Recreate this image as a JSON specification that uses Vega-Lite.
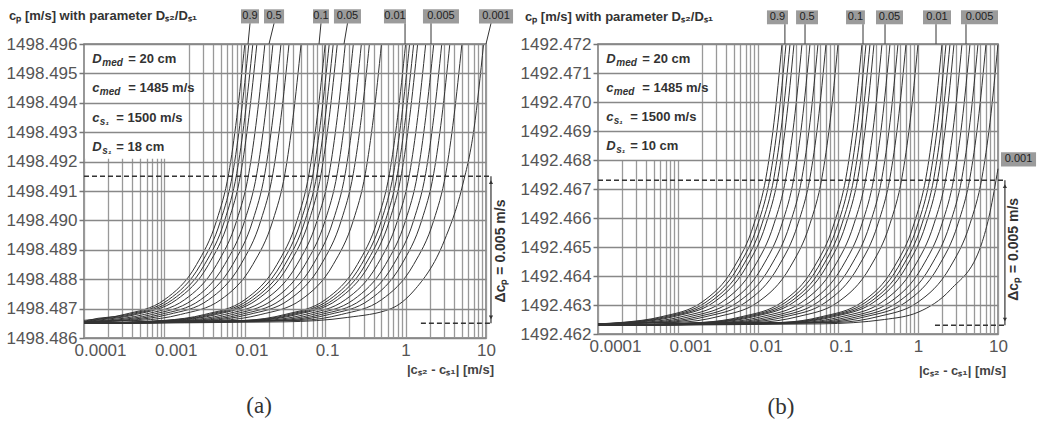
{
"$schema":"https://vega.github.io/schema/vega-lite/v6.json",
"background":"white",
"padding":{"left":5,"top":8,"right":0,"bottom":0},
"spacing":112,
"bounds":"flush",
"config":{"view":{"stroke":"#777","strokeWidth":1.5},"font":"Liberation Sans","text":{"font":"Liberation Sans"}},
"datasets":{
"ca":[
{"c":"a1","x":0.01,"y":1498.496},{"c":"a1","x":0.007943,"y":1498.4935},{"c":"a1","x":0.00631,"y":1498.4916},{"c":"a1","x":0.004467,"y":1498.49},{"c":"a1","x":0.002512,"y":1498.4885},{"c":"a1","x":0.001,"y":1498.4873},{"c":"a1","x":0.0003162,"y":1498.4868},{"c":"a1","x":0.0001,"y":1498.4866},
{"c":"a2","x":0.01122,"y":1498.496},{"c":"a2","x":0.008913,"y":1498.4935},{"c":"a2","x":0.007079,"y":1498.4916},{"c":"a2","x":0.005012,"y":1498.49},{"c":"a2","x":0.002818,"y":1498.4885},{"c":"a2","x":0.001122,"y":1498.4873},{"c":"a2","x":0.0003548,"y":1498.4868},{"c":"a2","x":0.0001122,"y":1498.4866},{"c":"a2","x":0.0001,"y":1498.48655},
{"c":"a3","x":0.01259,"y":1498.496},{"c":"a3","x":0.01,"y":1498.4935},{"c":"a3","x":0.007943,"y":1498.4916},{"c":"a3","x":0.005623,"y":1498.49},{"c":"a3","x":0.003162,"y":1498.4885},{"c":"a3","x":0.001259,"y":1498.4873},{"c":"a3","x":0.0003981,"y":1498.4868},{"c":"a3","x":0.0001259,"y":1498.4866},{"c":"a3","x":0.0001,"y":1498.48655},
{"c":"a4","x":0.01413,"y":1498.496},{"c":"a4","x":0.01122,"y":1498.4935},{"c":"a4","x":0.008913,"y":1498.4916},{"c":"a4","x":0.00631,"y":1498.49},{"c":"a4","x":0.003548,"y":1498.4885},{"c":"a4","x":0.001413,"y":1498.4873},{"c":"a4","x":0.0004467,"y":1498.4868},{"c":"a4","x":0.0001413,"y":1498.4866},{"c":"a4","x":0.0001,"y":1498.48655},
{"c":"a5","x":0.01778,"y":1498.496},{"c":"a5","x":0.01413,"y":1498.4935},{"c":"a5","x":0.01122,"y":1498.4916},{"c":"a5","x":0.007943,"y":1498.49},{"c":"a5","x":0.004467,"y":1498.4885},{"c":"a5","x":0.001778,"y":1498.4873},{"c":"a5","x":0.0005623,"y":1498.4868},{"c":"a5","x":0.0001778,"y":1498.4866},{"c":"a5","x":0.0001,"y":1498.48655},
{"c":"a6","x":0.02239,"y":1498.496},{"c":"a6","x":0.01778,"y":1498.4935},{"c":"a6","x":0.01413,"y":1498.4916},{"c":"a6","x":0.01,"y":1498.49},{"c":"a6","x":0.005623,"y":1498.4885},{"c":"a6","x":0.002239,"y":1498.4873},{"c":"a6","x":0.0007079,"y":1498.4868},{"c":"a6","x":0.0002239,"y":1498.4866},{"c":"a6","x":0.0001,"y":1498.48655},
{"c":"a7","x":0.02818,"y":1498.496},{"c":"a7","x":0.02239,"y":1498.4935},{"c":"a7","x":0.01778,"y":1498.4916},{"c":"a7","x":0.01259,"y":1498.49},{"c":"a7","x":0.007079,"y":1498.4885},{"c":"a7","x":0.002818,"y":1498.4873},{"c":"a7","x":0.0008913,"y":1498.4868},{"c":"a7","x":0.0002818,"y":1498.4866},{"c":"a7","x":0.0001,"y":1498.48655},
{"c":"a8","x":0.03548,"y":1498.496},{"c":"a8","x":0.02818,"y":1498.4935},{"c":"a8","x":0.02239,"y":1498.4916},{"c":"a8","x":0.01585,"y":1498.49},{"c":"a8","x":0.008913,"y":1498.4885},{"c":"a8","x":0.003548,"y":1498.4873},{"c":"a8","x":0.001122,"y":1498.4868},{"c":"a8","x":0.0003548,"y":1498.4866},{"c":"a8","x":0.0001,"y":1498.48655},
{"c":"a9","x":0.05012,"y":1498.496},{"c":"a9","x":0.03981,"y":1498.4935},{"c":"a9","x":0.03162,"y":1498.4916},{"c":"a9","x":0.02239,"y":1498.49},{"c":"a9","x":0.01259,"y":1498.4885},{"c":"a9","x":0.005012,"y":1498.4873},{"c":"a9","x":0.001585,"y":1498.4868},{"c":"a9","x":0.0005012,"y":1498.4866},{"c":"a9","x":0.0001,"y":1498.48655},
{"c":"b1","x":0.1,"y":1498.496},{"c":"b1","x":0.07943,"y":1498.4935},{"c":"b1","x":0.0631,"y":1498.4916},{"c":"b1","x":0.04467,"y":1498.49},{"c":"b1","x":0.02512,"y":1498.4885},{"c":"b1","x":0.01,"y":1498.4873},{"c":"b1","x":0.003162,"y":1498.4868},{"c":"b1","x":0.001,"y":1498.4866},{"c":"b1","x":0.0001,"y":1498.4865},
{"c":"b2","x":0.1122,"y":1498.496},{"c":"b2","x":0.08913,"y":1498.4935},{"c":"b2","x":0.07079,"y":1498.4916},{"c":"b2","x":0.05012,"y":1498.49},{"c":"b2","x":0.02818,"y":1498.4885},{"c":"b2","x":0.01122,"y":1498.4873},{"c":"b2","x":0.003548,"y":1498.4868},{"c":"b2","x":0.001122,"y":1498.4866},{"c":"b2","x":0.0001,"y":1498.4865},
{"c":"b3","x":0.1259,"y":1498.496},{"c":"b3","x":0.1,"y":1498.4935},{"c":"b3","x":0.07943,"y":1498.4916},{"c":"b3","x":0.05623,"y":1498.49},{"c":"b3","x":0.03162,"y":1498.4885},{"c":"b3","x":0.01259,"y":1498.4873},{"c":"b3","x":0.003981,"y":1498.4868},{"c":"b3","x":0.001259,"y":1498.4866},{"c":"b3","x":0.0001,"y":1498.4865},
{"c":"b4","x":0.1413,"y":1498.496},{"c":"b4","x":0.1122,"y":1498.4935},{"c":"b4","x":0.08913,"y":1498.4916},{"c":"b4","x":0.0631,"y":1498.49},{"c":"b4","x":0.03548,"y":1498.4885},{"c":"b4","x":0.01413,"y":1498.4873},{"c":"b4","x":0.004467,"y":1498.4868},{"c":"b4","x":0.001413,"y":1498.4866},{"c":"b4","x":0.0001,"y":1498.4865},
{"c":"b5","x":0.1778,"y":1498.496},{"c":"b5","x":0.1413,"y":1498.4935},{"c":"b5","x":0.1122,"y":1498.4916},{"c":"b5","x":0.07943,"y":1498.49},{"c":"b5","x":0.04467,"y":1498.4885},{"c":"b5","x":0.01778,"y":1498.4873},{"c":"b5","x":0.005623,"y":1498.4868},{"c":"b5","x":0.001778,"y":1498.4866},{"c":"b5","x":0.0001,"y":1498.4865},
{"c":"b6","x":0.2239,"y":1498.496},{"c":"b6","x":0.1778,"y":1498.4935},{"c":"b6","x":0.1413,"y":1498.4916},{"c":"b6","x":0.1,"y":1498.49},{"c":"b6","x":0.05623,"y":1498.4885},{"c":"b6","x":0.02239,"y":1498.4873},{"c":"b6","x":0.007079,"y":1498.4868},{"c":"b6","x":0.002239,"y":1498.4866},{"c":"b6","x":0.0001,"y":1498.4865},
{"c":"b7","x":0.2818,"y":1498.496},{"c":"b7","x":0.2239,"y":1498.4935},{"c":"b7","x":0.1778,"y":1498.4916},{"c":"b7","x":0.1259,"y":1498.49},{"c":"b7","x":0.07079,"y":1498.4885},{"c":"b7","x":0.02818,"y":1498.4873},{"c":"b7","x":0.008913,"y":1498.4868},{"c":"b7","x":0.002818,"y":1498.4866},{"c":"b7","x":0.0001,"y":1498.4865},
{"c":"b8","x":0.3548,"y":1498.496},{"c":"b8","x":0.2818,"y":1498.4935},{"c":"b8","x":0.2239,"y":1498.4916},{"c":"b8","x":0.1585,"y":1498.49},{"c":"b8","x":0.08913,"y":1498.4885},{"c":"b8","x":0.03548,"y":1498.4873},{"c":"b8","x":0.01122,"y":1498.4868},{"c":"b8","x":0.003548,"y":1498.4866},{"c":"b8","x":0.0001,"y":1498.4865},
{"c":"b9","x":0.5012,"y":1498.496},{"c":"b9","x":0.3981,"y":1498.4935},{"c":"b9","x":0.3162,"y":1498.4916},{"c":"b9","x":0.2239,"y":1498.49},{"c":"b9","x":0.1259,"y":1498.4885},{"c":"b9","x":0.05012,"y":1498.4873},{"c":"b9","x":0.01585,"y":1498.4868},{"c":"b9","x":0.005012,"y":1498.4866},{"c":"b9","x":0.0001,"y":1498.4865},
{"c":"c1","x":1,"y":1498.496},{"c":"c1","x":0.7943,"y":1498.4935},{"c":"c1","x":0.631,"y":1498.4916},{"c":"c1","x":0.4467,"y":1498.49},{"c":"c1","x":0.2512,"y":1498.4885},{"c":"c1","x":0.1,"y":1498.4873},{"c":"c1","x":0.03162,"y":1498.4868},{"c":"c1","x":0.01,"y":1498.4866},{"c":"c1","x":0.0001,"y":1498.4865},
{"c":"c2","x":1.122,"y":1498.496},{"c":"c2","x":0.8913,"y":1498.4935},{"c":"c2","x":0.7079,"y":1498.4916},{"c":"c2","x":0.5012,"y":1498.49},{"c":"c2","x":0.2818,"y":1498.4885},{"c":"c2","x":0.1122,"y":1498.4873},{"c":"c2","x":0.03548,"y":1498.4868},{"c":"c2","x":0.01122,"y":1498.4866},{"c":"c2","x":0.0001,"y":1498.4865},
{"c":"c3","x":1.259,"y":1498.496},{"c":"c3","x":1,"y":1498.4935},{"c":"c3","x":0.7943,"y":1498.4916},{"c":"c3","x":0.5623,"y":1498.49},{"c":"c3","x":0.3162,"y":1498.4885},{"c":"c3","x":0.1259,"y":1498.4873},{"c":"c3","x":0.03981,"y":1498.4868},{"c":"c3","x":0.01259,"y":1498.4866},{"c":"c3","x":0.0001,"y":1498.4865},
{"c":"c4","x":1.413,"y":1498.496},{"c":"c4","x":1.122,"y":1498.4935},{"c":"c4","x":0.8913,"y":1498.4916},{"c":"c4","x":0.631,"y":1498.49},{"c":"c4","x":0.3548,"y":1498.4885},{"c":"c4","x":0.1413,"y":1498.4873},{"c":"c4","x":0.04467,"y":1498.4868},{"c":"c4","x":0.01413,"y":1498.4866},{"c":"c4","x":0.0001,"y":1498.4865},
{"c":"c5","x":1.778,"y":1498.496},{"c":"c5","x":1.413,"y":1498.4935},{"c":"c5","x":1.122,"y":1498.4916},{"c":"c5","x":0.7943,"y":1498.49},{"c":"c5","x":0.4467,"y":1498.4885},{"c":"c5","x":0.1778,"y":1498.4873},{"c":"c5","x":0.05623,"y":1498.4868},{"c":"c5","x":0.01778,"y":1498.4866},{"c":"c5","x":0.0001,"y":1498.4865},
{"c":"c6","x":2.239,"y":1498.496},{"c":"c6","x":1.778,"y":1498.4935},{"c":"c6","x":1.413,"y":1498.4916},{"c":"c6","x":1,"y":1498.49},{"c":"c6","x":0.5623,"y":1498.4885},{"c":"c6","x":0.2239,"y":1498.4873},{"c":"c6","x":0.07079,"y":1498.4868},{"c":"c6","x":0.02239,"y":1498.4866},{"c":"c6","x":0.0001,"y":1498.4865},
{"c":"c7","x":2.818,"y":1498.496},{"c":"c7","x":2.239,"y":1498.4935},{"c":"c7","x":1.778,"y":1498.4916},{"c":"c7","x":1.259,"y":1498.49},{"c":"c7","x":0.7079,"y":1498.4885},{"c":"c7","x":0.2818,"y":1498.4873},{"c":"c7","x":0.08913,"y":1498.4868},{"c":"c7","x":0.02818,"y":1498.4866},{"c":"c7","x":0.0001,"y":1498.4865},
{"c":"c8","x":3.548,"y":1498.496},{"c":"c8","x":2.818,"y":1498.4935},{"c":"c8","x":2.239,"y":1498.4916},{"c":"c8","x":1.585,"y":1498.49},{"c":"c8","x":0.8913,"y":1498.4885},{"c":"c8","x":0.3548,"y":1498.4873},{"c":"c8","x":0.1122,"y":1498.4868},{"c":"c8","x":0.03548,"y":1498.4866},{"c":"c8","x":0.0001,"y":1498.4865},
{"c":"c9","x":5.012,"y":1498.496},{"c":"c9","x":3.981,"y":1498.4935},{"c":"c9","x":3.162,"y":1498.4916},{"c":"c9","x":2.239,"y":1498.49},{"c":"c9","x":1.259,"y":1498.4885},{"c":"c9","x":0.5012,"y":1498.4873},{"c":"c9","x":0.1585,"y":1498.4868},{"c":"c9","x":0.05012,"y":1498.4866},{"c":"c9","x":0.0001,"y":1498.4865},
{"c":"z","x":0.0001,"y":1498.4865},{"c":"z","x":0.03162,"y":1498.48655},{"c":"z","x":0.1905,"y":1498.4867},{"c":"z","x":0.6607,"y":1498.487},{"c":"z","x":1.259,"y":1498.4876},{"c":"z","x":3.02,"y":1498.4893},{"c":"z","x":5.012,"y":1498.4911},{"c":"z","x":7.079,"y":1498.4931},{"c":"z","x":9.333,"y":1498.496}
],
"cb":[
{"c":"p1","x":0.01995,"y":1492.472},{"c":"p1","x":0.01585,"y":1492.4693},{"c":"p1","x":0.01259,"y":1492.4674},{"c":"p1","x":0.008913,"y":1492.4658},{"c":"p1","x":0.005012,"y":1492.4643},{"c":"p1","x":0.001995,"y":1492.4631},{"c":"p1","x":0.000631,"y":1492.4626},{"c":"p1","x":0.0001995,"y":1492.4624},{"c":"p1","x":0.0001,"y":1492.46235},
{"c":"p2","x":0.02239,"y":1492.472},{"c":"p2","x":0.01778,"y":1492.4693},{"c":"p2","x":0.01413,"y":1492.4674},{"c":"p2","x":0.01,"y":1492.4658},{"c":"p2","x":0.005623,"y":1492.4643},{"c":"p2","x":0.002239,"y":1492.4631},{"c":"p2","x":0.0007079,"y":1492.4626},{"c":"p2","x":0.0002239,"y":1492.4624},{"c":"p2","x":0.0001,"y":1492.46235},
{"c":"p3","x":0.02512,"y":1492.472},{"c":"p3","x":0.01995,"y":1492.4693},{"c":"p3","x":0.01585,"y":1492.4674},{"c":"p3","x":0.01122,"y":1492.4658},{"c":"p3","x":0.00631,"y":1492.4643},{"c":"p3","x":0.002512,"y":1492.4631},{"c":"p3","x":0.0007943,"y":1492.4626},{"c":"p3","x":0.0002512,"y":1492.4624},{"c":"p3","x":0.0001,"y":1492.46235},
{"c":"p4","x":0.02818,"y":1492.472},{"c":"p4","x":0.02239,"y":1492.4693},{"c":"p4","x":0.01778,"y":1492.4674},{"c":"p4","x":0.01259,"y":1492.4658},{"c":"p4","x":0.007079,"y":1492.4643},{"c":"p4","x":0.002818,"y":1492.4631},{"c":"p4","x":0.0008913,"y":1492.4626},{"c":"p4","x":0.0002818,"y":1492.4624},{"c":"p4","x":0.0001,"y":1492.46235},
{"c":"p5","x":0.03548,"y":1492.472},{"c":"p5","x":0.02818,"y":1492.4693},{"c":"p5","x":0.02239,"y":1492.4674},{"c":"p5","x":0.01585,"y":1492.4658},{"c":"p5","x":0.008913,"y":1492.4643},{"c":"p5","x":0.003548,"y":1492.4631},{"c":"p5","x":0.001122,"y":1492.4626},{"c":"p5","x":0.0003548,"y":1492.4624},{"c":"p5","x":0.0001,"y":1492.46235},
{"c":"p6","x":0.04467,"y":1492.472},{"c":"p6","x":0.03548,"y":1492.4693},{"c":"p6","x":0.02818,"y":1492.4674},{"c":"p6","x":0.01995,"y":1492.4658},{"c":"p6","x":0.01122,"y":1492.4643},{"c":"p6","x":0.004467,"y":1492.4631},{"c":"p6","x":0.001413,"y":1492.4626},{"c":"p6","x":0.0004467,"y":1492.4624},{"c":"p6","x":0.0001,"y":1492.46235},
{"c":"p7","x":0.05623,"y":1492.472},{"c":"p7","x":0.04467,"y":1492.4693},{"c":"p7","x":0.03548,"y":1492.4674},{"c":"p7","x":0.02512,"y":1492.4658},{"c":"p7","x":0.01413,"y":1492.4643},{"c":"p7","x":0.005623,"y":1492.4631},{"c":"p7","x":0.001778,"y":1492.4626},{"c":"p7","x":0.0005623,"y":1492.4624},{"c":"p7","x":0.0001,"y":1492.46235},
{"c":"p8","x":0.07079,"y":1492.472},{"c":"p8","x":0.05623,"y":1492.4693},{"c":"p8","x":0.04467,"y":1492.4674},{"c":"p8","x":0.03162,"y":1492.4658},{"c":"p8","x":0.01778,"y":1492.4643},{"c":"p8","x":0.007079,"y":1492.4631},{"c":"p8","x":0.002239,"y":1492.4626},{"c":"p8","x":0.0007079,"y":1492.4624},{"c":"p8","x":0.0001,"y":1492.46235},
{"c":"p9","x":0.1,"y":1492.472},{"c":"p9","x":0.07943,"y":1492.4693},{"c":"p9","x":0.0631,"y":1492.4674},{"c":"p9","x":0.04467,"y":1492.4658},{"c":"p9","x":0.02512,"y":1492.4643},{"c":"p9","x":0.01,"y":1492.4631},{"c":"p9","x":0.003162,"y":1492.4626},{"c":"p9","x":0.001,"y":1492.4624},{"c":"p9","x":0.0001,"y":1492.46235},
{"c":"q1","x":0.1995,"y":1492.472},{"c":"q1","x":0.1585,"y":1492.4693},{"c":"q1","x":0.1259,"y":1492.4674},{"c":"q1","x":0.08913,"y":1492.4658},{"c":"q1","x":0.05012,"y":1492.4643},{"c":"q1","x":0.01995,"y":1492.4631},{"c":"q1","x":0.00631,"y":1492.4626},{"c":"q1","x":0.001995,"y":1492.4624},{"c":"q1","x":0.0001,"y":1492.4623},
{"c":"q2","x":0.2239,"y":1492.472},{"c":"q2","x":0.1778,"y":1492.4693},{"c":"q2","x":0.1413,"y":1492.4674},{"c":"q2","x":0.1,"y":1492.4658},{"c":"q2","x":0.05623,"y":1492.4643},{"c":"q2","x":0.02239,"y":1492.4631},{"c":"q2","x":0.007079,"y":1492.4626},{"c":"q2","x":0.002239,"y":1492.4624},{"c":"q2","x":0.0001,"y":1492.4623},
{"c":"q3","x":0.2512,"y":1492.472},{"c":"q3","x":0.1995,"y":1492.4693},{"c":"q3","x":0.1585,"y":1492.4674},{"c":"q3","x":0.1122,"y":1492.4658},{"c":"q3","x":0.0631,"y":1492.4643},{"c":"q3","x":0.02512,"y":1492.4631},{"c":"q3","x":0.007943,"y":1492.4626},{"c":"q3","x":0.002512,"y":1492.4624},{"c":"q3","x":0.0001,"y":1492.4623},
{"c":"q4","x":0.2818,"y":1492.472},{"c":"q4","x":0.2239,"y":1492.4693},{"c":"q4","x":0.1778,"y":1492.4674},{"c":"q4","x":0.1259,"y":1492.4658},{"c":"q4","x":0.07079,"y":1492.4643},{"c":"q4","x":0.02818,"y":1492.4631},{"c":"q4","x":0.008913,"y":1492.4626},{"c":"q4","x":0.002818,"y":1492.4624},{"c":"q4","x":0.0001,"y":1492.4623},
{"c":"q5","x":0.3548,"y":1492.472},{"c":"q5","x":0.2818,"y":1492.4693},{"c":"q5","x":0.2239,"y":1492.4674},{"c":"q5","x":0.1585,"y":1492.4658},{"c":"q5","x":0.08913,"y":1492.4643},{"c":"q5","x":0.03548,"y":1492.4631},{"c":"q5","x":0.01122,"y":1492.4626},{"c":"q5","x":0.003548,"y":1492.4624},{"c":"q5","x":0.0001,"y":1492.4623},
{"c":"q6","x":0.4467,"y":1492.472},{"c":"q6","x":0.3548,"y":1492.4693},{"c":"q6","x":0.2818,"y":1492.4674},{"c":"q6","x":0.1995,"y":1492.4658},{"c":"q6","x":0.1122,"y":1492.4643},{"c":"q6","x":0.04467,"y":1492.4631},{"c":"q6","x":0.01413,"y":1492.4626},{"c":"q6","x":0.004467,"y":1492.4624},{"c":"q6","x":0.0001,"y":1492.4623},
{"c":"q7","x":0.5623,"y":1492.472},{"c":"q7","x":0.4467,"y":1492.4693},{"c":"q7","x":0.3548,"y":1492.4674},{"c":"q7","x":0.2512,"y":1492.4658},{"c":"q7","x":0.1413,"y":1492.4643},{"c":"q7","x":0.05623,"y":1492.4631},{"c":"q7","x":0.01778,"y":1492.4626},{"c":"q7","x":0.005623,"y":1492.4624},{"c":"q7","x":0.0001,"y":1492.4623},
{"c":"q8","x":0.7079,"y":1492.472},{"c":"q8","x":0.5623,"y":1492.4693},{"c":"q8","x":0.4467,"y":1492.4674},{"c":"q8","x":0.3162,"y":1492.4658},{"c":"q8","x":0.1778,"y":1492.4643},{"c":"q8","x":0.07079,"y":1492.4631},{"c":"q8","x":0.02239,"y":1492.4626},{"c":"q8","x":0.007079,"y":1492.4624},{"c":"q8","x":0.0001,"y":1492.4623},
{"c":"q9","x":1,"y":1492.472},{"c":"q9","x":0.7943,"y":1492.4693},{"c":"q9","x":0.631,"y":1492.4674},{"c":"q9","x":0.4467,"y":1492.4658},{"c":"q9","x":0.2512,"y":1492.4643},{"c":"q9","x":0.1,"y":1492.4631},{"c":"q9","x":0.03162,"y":1492.4626},{"c":"q9","x":0.01,"y":1492.4624},{"c":"q9","x":0.0001,"y":1492.4623},
{"c":"r1","x":1.995,"y":1492.472},{"c":"r1","x":1.585,"y":1492.4693},{"c":"r1","x":1.259,"y":1492.4674},{"c":"r1","x":0.8913,"y":1492.4658},{"c":"r1","x":0.5012,"y":1492.4643},{"c":"r1","x":0.1995,"y":1492.4631},{"c":"r1","x":0.0631,"y":1492.4626},{"c":"r1","x":0.01995,"y":1492.4624},{"c":"r1","x":0.0001,"y":1492.4623},
{"c":"r2","x":2.239,"y":1492.472},{"c":"r2","x":1.778,"y":1492.4693},{"c":"r2","x":1.413,"y":1492.4674},{"c":"r2","x":1,"y":1492.4658},{"c":"r2","x":0.5623,"y":1492.4643},{"c":"r2","x":0.2239,"y":1492.4631},{"c":"r2","x":0.07079,"y":1492.4626},{"c":"r2","x":0.02239,"y":1492.4624},{"c":"r2","x":0.0001,"y":1492.4623},
{"c":"r3","x":2.512,"y":1492.472},{"c":"r3","x":1.995,"y":1492.4693},{"c":"r3","x":1.585,"y":1492.4674},{"c":"r3","x":1.122,"y":1492.4658},{"c":"r3","x":0.631,"y":1492.4643},{"c":"r3","x":0.2512,"y":1492.4631},{"c":"r3","x":0.07943,"y":1492.4626},{"c":"r3","x":0.02512,"y":1492.4624},{"c":"r3","x":0.0001,"y":1492.4623},
{"c":"r4","x":2.818,"y":1492.472},{"c":"r4","x":2.239,"y":1492.4693},{"c":"r4","x":1.778,"y":1492.4674},{"c":"r4","x":1.259,"y":1492.4658},{"c":"r4","x":0.7079,"y":1492.4643},{"c":"r4","x":0.2818,"y":1492.4631},{"c":"r4","x":0.08913,"y":1492.4626},{"c":"r4","x":0.02818,"y":1492.4624},{"c":"r4","x":0.0001,"y":1492.4623},
{"c":"r5","x":3.548,"y":1492.472},{"c":"r5","x":2.818,"y":1492.4693},{"c":"r5","x":2.239,"y":1492.4674},{"c":"r5","x":1.585,"y":1492.4658},{"c":"r5","x":0.8913,"y":1492.4643},{"c":"r5","x":0.3548,"y":1492.4631},{"c":"r5","x":0.1122,"y":1492.4626},{"c":"r5","x":0.03548,"y":1492.4624},{"c":"r5","x":0.0001,"y":1492.4623},
{"c":"r6","x":4.467,"y":1492.472},{"c":"r6","x":3.548,"y":1492.4693},{"c":"r6","x":2.818,"y":1492.4674},{"c":"r6","x":1.995,"y":1492.4658},{"c":"r6","x":1.122,"y":1492.4643},{"c":"r6","x":0.4467,"y":1492.4631},{"c":"r6","x":0.1413,"y":1492.4626},{"c":"r6","x":0.04467,"y":1492.4624},{"c":"r6","x":0.0001,"y":1492.4623},
{"c":"r7","x":5.623,"y":1492.472},{"c":"r7","x":4.467,"y":1492.4693},{"c":"r7","x":3.548,"y":1492.4674},{"c":"r7","x":2.512,"y":1492.4658},{"c":"r7","x":1.413,"y":1492.4643},{"c":"r7","x":0.5623,"y":1492.4631},{"c":"r7","x":0.1778,"y":1492.4626},{"c":"r7","x":0.05623,"y":1492.4624},{"c":"r7","x":0.0001,"y":1492.4623},
{"c":"r8","x":7.079,"y":1492.472},{"c":"r8","x":5.623,"y":1492.4693},{"c":"r8","x":4.467,"y":1492.4674},{"c":"r8","x":3.162,"y":1492.4658},{"c":"r8","x":1.778,"y":1492.4643},{"c":"r8","x":0.7079,"y":1492.4631},{"c":"r8","x":0.2239,"y":1492.4626},{"c":"r8","x":0.07079,"y":1492.4624},{"c":"r8","x":0.0001,"y":1492.4623},
{"c":"r9","x":10,"y":1492.472},{"c":"r9","x":7.943,"y":1492.4693},{"c":"r9","x":6.31,"y":1492.4674},{"c":"r9","x":4.467,"y":1492.4658},{"c":"r9","x":2.512,"y":1492.4643},{"c":"r9","x":1,"y":1492.4631},{"c":"r9","x":0.3162,"y":1492.4626},{"c":"r9","x":0.1,"y":1492.4624},{"c":"r9","x":0.0001,"y":1492.4623},
{"c":"z","x":0.0001,"y":1492.4623},{"c":"z","x":0.0631,"y":1492.46235},{"c":"z","x":0.3802,"y":1492.4625},{"c":"z","x":1,"y":1492.46275},{"c":"z","x":2.57,"y":1492.46354},{"c":"z","x":6.166,"y":1492.46507},{"c":"z","x":7.943,"y":1492.4662},{"c":"z","x":10,"y":1492.4677}
],
"boxa":[{"x":0.0001029,"x2":0.0019,"y":1498.4921,"y2":1498.49597}],
"boxb":[{"x":0.0001029,"x2":0.0019,"y":1492.468,"y2":1492.47197}],
"dasha":[{"x":0.0001,"x2":11.53,"y":1498.4915,"y2":1498.4915},{"x":1.55,"x2":11.53,"y":1498.4865,"y2":1498.4865}],
"dashb":[{"x":0.0001,"x2":12.2,"y":1492.4673,"y2":1492.4673},{"x":1.63,"x2":12.2,"y":1492.4623,"y2":1492.4623}],
"arra":[{"x":11.53,"y":1498.4865,"y2":1498.4915}],
"arrb":[{"x":12.2,"y":1492.4623,"y2":1492.4673}],
"heada":[{"x":11.53,"y":1498.4913,"end":"top"},{"x":11.53,"y":1498.4867,"end":"bottom"}],
"headb":[{"x":12.2,"y":1492.4671,"end":"top"},{"x":12.2,"y":1492.4625,"end":"bottom"}],
"laba":[
{"lab":"0.9","x":0.00897,"x2":0.01503,"y":1498.4967,"y2":1498.49718},
{"lab":"0.5","x":0.01733,"x2":0.0308,"y":1498.4967,"y2":1498.49718},
{"lab":"0.1","x":0.0705,"x2":0.1114,"y":1498.4967,"y2":1498.49718},
{"lab":"0.05","x":0.1285,"x2":0.2786,"y":1498.4967,"y2":1498.49718},
{"lab":"0.01","x":0.538,"x2":1.012,"y":1498.4967,"y2":1498.49718},
{"lab":"0.005","x":1.644,"x2":4.61,"y":1498.4967,"y2":1498.49718},
{"lab":"0.001","x":8.18,"x2":21.7,"y":1498.4967,"y2":1498.49718}],
"labta":[
{"lab":"0.9","x":0.01161,"y":1498.49694},{"lab":"0.5","x":0.0231,"y":1498.49694},{"lab":"0.1","x":0.0886,"y":1498.49694},{"lab":"0.05","x":0.1892,"y":1498.49694},{"lab":"0.01","x":0.738,"y":1498.49694},{"lab":"0.005","x":2.753,"y":1498.49694},{"lab":"0.001","x":13.32,"y":1498.49694}],
"leada":[
{"x":0.01161,"x2":0.01096,"y":1498.4967,"y2":1498.496},{"x":0.0231,"x2":0.02,"y":1498.4967,"y2":1498.496},{"x":0.0886,"x2":0.0838,"y":1498.4967,"y2":1498.496},{"x":0.1892,"x2":0.1714,"y":1498.4967,"y2":1498.496},{"x":0.984,"x2":0.984,"y":1498.4967,"y2":1498.496},{"x":2.07,"x2":2.07,"y":1498.4967,"y2":1498.496},{"x":11.53,"x2":10,"y":1498.4967,"y2":1498.496}],
"labb":[
{"lab":"0.9","x":0.01294,"x2":0.0237,"y":1492.47268,"y2":1492.47316},
{"lab":"0.5","x":0.0299,"x2":0.0562,"y":1492.47268,"y2":1492.47316},
{"lab":"0.1","x":0.126,"x2":0.217,"y":1492.47268,"y2":1492.47316},
{"lab":"0.05","x":0.2985,"x2":0.649,"y":1492.47268,"y2":1492.47316},
{"lab":"0.01","x":1.155,"x2":2.585,"y":1492.47268,"y2":1492.47316},
{"lab":"0.005","x":3.447,"x2":10,"y":1492.47268,"y2":1492.47316},
{"lab":"0.001","x":10.9,"x2":29.9,"y":1492.46778,"y2":1492.46827}],
"labtb":[
{"lab":"0.9","x":0.01751,"y":1492.47292},{"lab":"0.5","x":0.041,"y":1492.47292},{"lab":"0.1","x":0.1654,"y":1492.47292},{"lab":"0.05","x":0.4402,"y":1492.47292},{"lab":"0.01","x":1.728,"y":1492.47292},{"lab":"0.005","x":5.871,"y":1492.47292},{"lab":"0.001","x":18.05,"y":1492.46802}],
"leadb":[
{"x":0.0217,"x2":0.0217,"y":1492.47268,"y2":1492.472},{"x":0.0387,"x2":0.0387,"y":1492.47268,"y2":1492.472},{"x":0.2054,"x2":0.2054,"y":1492.47268,"y2":1492.472},{"x":0.387,"x2":0.387,"y":1492.47268,"y2":1492.472},{"x":1.679,"x2":1.679,"y":1492.47268,"y2":1492.472},{"x":3.98,"x2":3.98,"y":1492.47268,"y2":1492.472}],
"para":[
{"main":"D","sub":"med","rest":"= 20 cm","x":0.000127,"y":1498.4955},
{"main":"c","sub":"med","rest":"= 1485 m/s","x":0.000127,"y":1498.4945},
{"main":"c","sub":"s₁","rest":"= 1500 m/s","x":0.000127,"y":1498.4935},
{"main":"D","sub":"s₁","rest":"= 18 cm","x":0.000127,"y":1498.4925}],
"parb":[
{"main":"D","sub":"med","rest":"= 20 cm","x":0.000127,"y":1492.4715},
{"main":"c","sub":"med","rest":"= 1485 m/s","x":0.000127,"y":1492.4705},
{"main":"c","sub":"s₁","rest":"= 1500 m/s","x":0.000127,"y":1492.4695},
{"main":"D","sub":"s₁","rest":"= 10 cm","x":0.000127,"y":1492.4685}],
"tita":[{"t":"cₚ [m/s] with parameter Dₛ₂/Dₛ₁","x":0.0000117,"y":1498.49694}],
"titb":[{"t":"cₚ [m/s] with parameter Dₛ₂/Dₛ₁","x":0.00001224,"y":1492.47292}],
"xta":[{"t":"|cₛ₂ - cₛ₁| [m/s]","x":12.58,"y":1498.48491}],
"xtb":[{"t":"|cₛ₂ - cₛ₁| [m/s]","x":12.59,"y":1492.46071}],
"capa":[{"t":"(a)","x":0.01503,"y":1498.48369}],
"capb":[{"t":"(b)","x":0.01939,"y":1492.45947}],
"dela":[{"t":"Δcₚ = 0.005 m/s","x":15.4,"y":1498.48896}],
"delb":[{"t":"Δcₚ = 0.005 m/s","x":15.85,"y":1492.46492}]
},
"hconcat":[
{"width":402,"height":294,
"encoding":{
"x":{"field":"x","type":"quantitative","scale":{"type":"log","domain":[0.0001,10],"nice":false},
"axis":{"values":[0.0001,0.0002,0.0003,0.0004,0.0005,0.0006,0.0007,0.0008,0.0009,0.001,0.002,0.003,0.004,0.005,0.006,0.007,0.008,0.009,0.01,0.02,0.03,0.04,0.05,0.06,0.07,0.08,0.09,0.1,0.2,0.3,0.4,0.5,0.6,0.7,0.8,0.9,1,2,3,4,5,6,7,8,9,10],
"title":null,"grid":true,"gridColor":"#999","gridWidth":1.3,"ticks":false,"domain":false,"labelFontSize":17,"labelColor":"#555","labelFont":"Liberation Sans","labelPadding":4,"labelFlush":false,"labelOverlap":false,
"labelExpr":"abs(log(datum.value)/LN10 - round(log(datum.value)/LN10)) < 0.001 ? format(datum.value, '~g') : ''",
"labelAlign":{"condition":{"test":"datum.value < 1","value":"left"},"value":"center"},
"labelOffset":{"condition":{"test":"datum.value < 1","value":-10},"value":0},"zindex":0}},
"y":{"field":"y","type":"quantitative","scale":{"domain":[1498.486,1498.496],"nice":false,"zero":false},
"axis":{"values":[1498.486,1498.487,1498.488,1498.489,1498.49,1498.491,1498.492,1498.493,1498.494,1498.495,1498.496],"format":".3f","title":null,"grid":true,"gridColor":"#888","gridWidth":1.6,"ticks":true,"tickSize":5,"tickColor":"#777","tickWidth":1.5,"domain":false,"labelFontSize":17,"labelColor":"#555","labelFont":"Liberation Sans","labelPadding":2,"labelFlush":false,"labelOverlap":false,"zindex":1}}
},
"layer":[
{"data":{"name":"boxa"},"mark":{"type":"rect","fill":"white"},"encoding":{"x2":{"field":"x2"},"y2":{"field":"y2"}}},
{"data":{"name":"ca"},"mark":{"type":"line","interpolate":"monotone","stroke":"#333","strokeWidth":1},"encoding":{"detail":{"field":"c"}}},
{"data":{"name":"dasha"},"mark":{"type":"rule","stroke":"#333","strokeWidth":1.6,"strokeDash":[5,3]},"encoding":{"x2":{"field":"x2"},"y2":{"field":"y2"}}},
{"data":{"name":"arra"},"mark":{"type":"rule","stroke":"#333","strokeWidth":1.2},"encoding":{"y2":{"field":"y2"}}},
{"data":{"name":"heada"},"mark":{"type":"point","filled":true,"color":"#333","size":18,"opacity":1},"encoding":{"shape":{"condition":{"test":"datum.end == 'top'","value":"triangle-up"},"value":"triangle-down"}}},
{"data":{"name":"laba"},"mark":{"type":"rect","fill":"#9b9b9b"},"encoding":{"x2":{"field":"x2"},"y2":{"field":"y2"}}},
{"data":{"name":"leada"},"mark":{"type":"rule","stroke":"#333","strokeWidth":1},"encoding":{"x2":{"field":"x2"},"y2":{"field":"y2"}}},
{"data":{"name":"labta"},"mark":{"type":"text","fontSize":11,"color":"#222","align":"center","baseline":"middle"},"encoding":{"text":{"field":"lab"}}},
{"data":{"name":"para"},"mark":{"type":"text","fontSize":13,"fontWeight":"bold","fontStyle":"italic","color":"#333","align":"left","baseline":"middle"},"encoding":{"text":{"field":"main"}}},
{"data":{"name":"para"},"transform":[{"filter":"datum.main == 'D'"}],"mark":{"type":"text","fontSize":10,"fontWeight":"bold","fontStyle":"italic","color":"#333","align":"left","baseline":"middle","dx":10,"dy":4},"encoding":{"text":{"field":"sub"}}},
{"data":{"name":"para"},"transform":[{"filter":"datum.main != 'D'"}],"mark":{"type":"text","fontSize":10,"fontWeight":"bold","fontStyle":"italic","color":"#333","align":"left","baseline":"middle","dx":7.5,"dy":4},"encoding":{"text":{"field":"sub"}}},
{"data":{"name":"para"},"transform":[{"filter":"datum.sub == 'med'"}],"mark":{"type":"text","fontSize":13,"fontWeight":"bold","color":"#333","align":"left","baseline":"middle","dx":36},"encoding":{"text":{"field":"rest"}}},
{"data":{"name":"para"},"transform":[{"filter":"datum.sub != 'med'"}],"mark":{"type":"text","fontSize":13,"fontWeight":"bold","color":"#333","align":"left","baseline":"middle","dx":24},"encoding":{"text":{"field":"rest"}}},
{"data":{"name":"tita"},"mark":{"type":"text","fontSize":13,"fontWeight":"bold","color":"#333","align":"left","baseline":"middle"},"encoding":{"text":{"field":"t"}}},
{"data":{"name":"xta"},"mark":{"type":"text","fontSize":13,"fontWeight":"bold","color":"#444","align":"right","baseline":"middle"},"encoding":{"text":{"field":"t"}}},
{"data":{"name":"capa"},"mark":{"type":"text","fontSize":23,"font":"Liberation Serif","color":"#333","align":"center","baseline":"middle"},"encoding":{"text":{"field":"t"}}},
{"data":{"name":"dela"},"mark":{"type":"text","fontSize":14,"fontWeight":"bold","color":"#333","align":"center","baseline":"middle","angle":270},"encoding":{"text":{"field":"t"}}}
]},
{"width":400,"height":290,
"encoding":{
"x":{"field":"x","type":"quantitative","scale":{"type":"log","domain":[0.0001,10],"nice":false},
"axis":{"values":[0.0001,0.0002,0.0003,0.0004,0.0005,0.0006,0.0007,0.0008,0.0009,0.001,0.002,0.003,0.004,0.005,0.006,0.007,0.008,0.009,0.01,0.02,0.03,0.04,0.05,0.06,0.07,0.08,0.09,0.1,0.2,0.3,0.4,0.5,0.6,0.7,0.8,0.9,1,2,3,4,5,6,7,8,9,10],
"title":null,"grid":true,"gridColor":"#999","gridWidth":1.3,"ticks":false,"domain":false,"labelFontSize":17,"labelColor":"#555","labelFont":"Liberation Sans","labelPadding":4,"labelFlush":false,"labelOverlap":false,
"labelExpr":"abs(log(datum.value)/LN10 - round(log(datum.value)/LN10)) < 0.001 ? format(datum.value, '~g') : ''",
"labelAlign":{"condition":{"test":"datum.value < 1","value":"left"},"value":"center"},
"labelOffset":{"condition":{"test":"datum.value < 1","value":-9},"value":0},"zindex":0}},
"y":{"field":"y","type":"quantitative","scale":{"domain":[1492.462,1492.472],"nice":false,"zero":false},
"axis":{"values":[1492.462,1492.463,1492.464,1492.465,1492.466,1492.467,1492.468,1492.469,1492.47,1492.471,1492.472],"format":".3f","title":null,"grid":true,"gridColor":"#888","gridWidth":1.6,"ticks":true,"tickSize":5,"tickColor":"#777","tickWidth":1.5,"domain":false,"labelFontSize":17,"labelColor":"#555","labelFont":"Liberation Sans","labelPadding":2,"labelFlush":false,"labelOverlap":false,"zindex":1}}
},
"layer":[
{"data":{"name":"boxb"},"mark":{"type":"rect","fill":"white"},"encoding":{"x2":{"field":"x2"},"y2":{"field":"y2"}}},
{"data":{"name":"cb"},"mark":{"type":"line","interpolate":"monotone","stroke":"#333","strokeWidth":1},"encoding":{"detail":{"field":"c"}}},
{"data":{"name":"dashb"},"mark":{"type":"rule","stroke":"#333","strokeWidth":1.6,"strokeDash":[5,3]},"encoding":{"x2":{"field":"x2"},"y2":{"field":"y2"}}},
{"data":{"name":"arrb"},"mark":{"type":"rule","stroke":"#333","strokeWidth":1.2},"encoding":{"y2":{"field":"y2"}}},
{"data":{"name":"headb"},"mark":{"type":"point","filled":true,"color":"#333","size":18,"opacity":1},"encoding":{"shape":{"condition":{"test":"datum.end == 'top'","value":"triangle-up"},"value":"triangle-down"}}},
{"data":{"name":"labb"},"mark":{"type":"rect","fill":"#9b9b9b"},"encoding":{"x2":{"field":"x2"},"y2":{"field":"y2"}}},
{"data":{"name":"leadb"},"mark":{"type":"rule","stroke":"#333","strokeWidth":1},"encoding":{"x2":{"field":"x2"},"y2":{"field":"y2"}}},
{"data":{"name":"labtb"},"mark":{"type":"text","fontSize":11,"color":"#222","align":"center","baseline":"middle"},"encoding":{"text":{"field":"lab"}}},
{"data":{"name":"parb"},"mark":{"type":"text","fontSize":13,"fontWeight":"bold","fontStyle":"italic","color":"#333","align":"left","baseline":"middle"},"encoding":{"text":{"field":"main"}}},
{"data":{"name":"parb"},"transform":[{"filter":"datum.main == 'D'"}],"mark":{"type":"text","fontSize":10,"fontWeight":"bold","fontStyle":"italic","color":"#333","align":"left","baseline":"middle","dx":10,"dy":4},"encoding":{"text":{"field":"sub"}}},
{"data":{"name":"parb"},"transform":[{"filter":"datum.main != 'D'"}],"mark":{"type":"text","fontSize":10,"fontWeight":"bold","fontStyle":"italic","color":"#333","align":"left","baseline":"middle","dx":7.5,"dy":4},"encoding":{"text":{"field":"sub"}}},
{"data":{"name":"parb"},"transform":[{"filter":"datum.sub == 'med'"}],"mark":{"type":"text","fontSize":13,"fontWeight":"bold","color":"#333","align":"left","baseline":"middle","dx":36},"encoding":{"text":{"field":"rest"}}},
{"data":{"name":"parb"},"transform":[{"filter":"datum.sub != 'med'"}],"mark":{"type":"text","fontSize":13,"fontWeight":"bold","color":"#333","align":"left","baseline":"middle","dx":24},"encoding":{"text":{"field":"rest"}}},
{"data":{"name":"titb"},"mark":{"type":"text","fontSize":13,"fontWeight":"bold","color":"#333","align":"left","baseline":"middle"},"encoding":{"text":{"field":"t"}}},
{"data":{"name":"xtb"},"mark":{"type":"text","fontSize":13,"fontWeight":"bold","color":"#444","align":"right","baseline":"middle"},"encoding":{"text":{"field":"t"}}},
{"data":{"name":"capb"},"mark":{"type":"text","fontSize":23,"font":"Liberation Serif","color":"#333","align":"center","baseline":"middle"},"encoding":{"text":{"field":"t"}}},
{"data":{"name":"delb"},"mark":{"type":"text","fontSize":14,"fontWeight":"bold","color":"#333","align":"center","baseline":"middle","angle":270},"encoding":{"text":{"field":"t"}}}
]}
]
}
